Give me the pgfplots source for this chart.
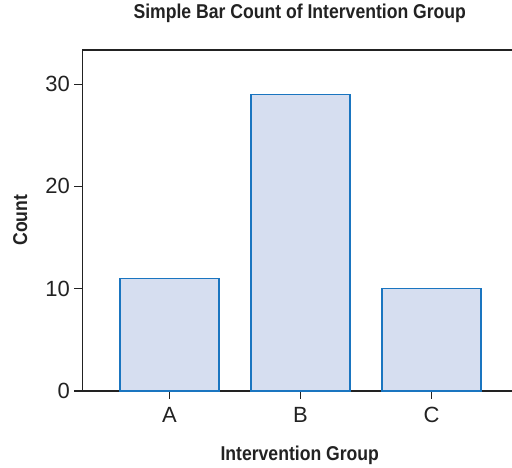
\documentclass[border=0pt]{standalone}
\usepackage{pgfplots}
\pgfplotsset{compat=1.18}
\usepackage{fontspec}
\setmainfont{Liberation Sans}
\newfontfamily\condbold[FakeStretch=0.88]{Liberation Sans Bold}
\definecolor{barfill}{HTML}{D6DEF0}
\definecolor{baredge}{HTML}{1A75C0}
\definecolor{axcol}{HTML}{222222}
\begin{document}
\begin{tikzpicture}
\useasboundingbox (0,0) rectangle (512pt,468pt);
\begin{axis}[
  at={(82.5pt,77pt)}, anchor=south west,
  scale only axis, width=431.5pt, height=341pt,
  xmin=-0.664, xmax=2.63, ymin=0, ymax=33.33,
  axis x line=box, axis y line=left,
  axis line style={draw=axcol, line width=1.2pt, -},
  xtick={0,1,2}, xticklabels={A,B,C},
  ytick={0,10,20,30},
  tick align=outside, major tick length=8pt,
  tick style={draw=axcol, line width=1.1pt},
  xtick pos=bottom, ytick pos=left,
  ticklabel style={font=\fontsize{22}{26}\selectfont, text=axcol},
  xticklabel style={yshift=-5pt},
  yticklabel style={xshift=-1pt},
  /pgf/number format/assume math mode=true,
  title={Simple Bar Count of Intervention Group},
  title style={at={(axis description cs:0.5035,1.0733)}, anchor=base, font=\condbold\fontsize{20}{24}\selectfont, text=axcol},
  xlabel={Intervention Group},
  xlabel style={at={(axis description cs:0.5035,-0.205)}, anchor=base, font=\condbold\fontsize{20}{24}\selectfont, text=axcol},
  ylabel={Count},
  ylabel style={at={(axis description cs:-0.1286,0.501)}, anchor=base, rotate=0, font=\condbold\fontsize{20}{24}\selectfont, text=axcol},
  clip=false,
]
\addplot[ybar, bar width=0.756, fill=barfill, draw=baredge, line width=1.1pt]
  coordinates {(0,11) (1,29) (2,10)};
\end{axis}
\end{tikzpicture}
\end{document}
